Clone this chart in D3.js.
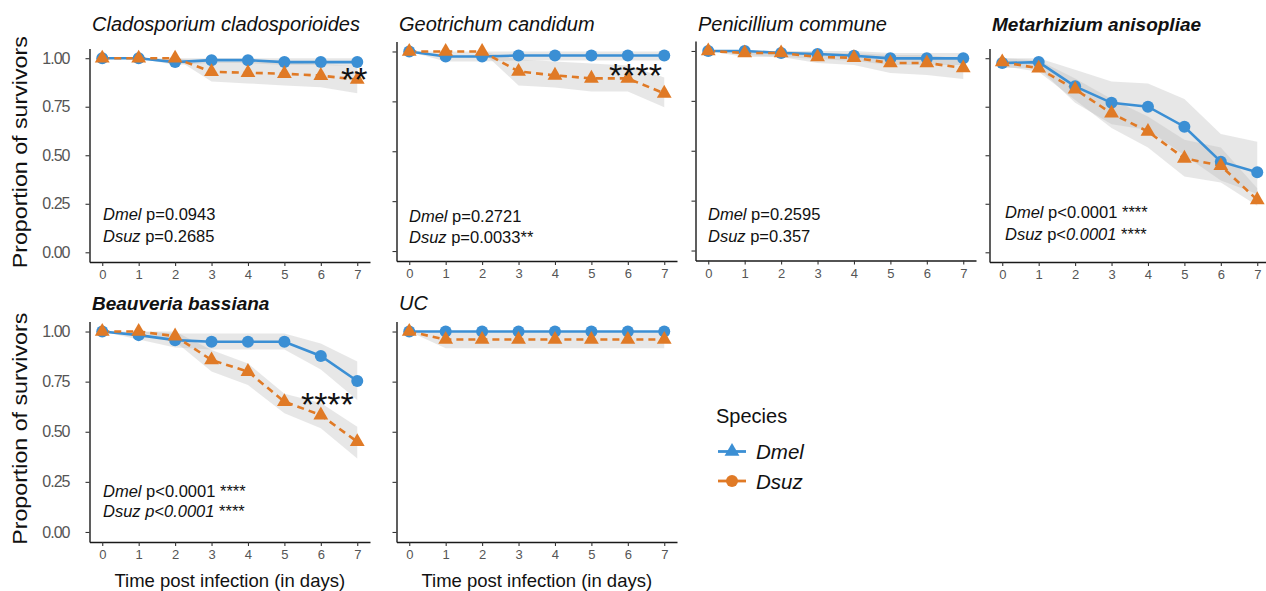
<!DOCTYPE html>
<html>
<head>
<meta charset="utf-8">
<script src="https://cdn.jsdelivr.net/npm/d3@7"></script>
<style>
  body { margin: 0; background: #fff; }
  text { font-family: "Liberation Sans", Arial, sans-serif; white-space: pre; }
</style>
</head>
<body>
<svg id="chart" width="1266" height="591"></svg>
<script>
// ---- data ----
var days        = [0, 1, 2, 3, 4, 5, 6, 7];
var yTicks      = [0, 0.25, 0.5, 0.75, 1];
var yTickLabels = ["0.00", "0.25", "0.50", "0.75", "1.00"];
var speciesNames = ["Dmel", "Dsuz"];

// Cladosporium cladosporioides
var cladoDmel   = [1, 1, 0.98, 0.99, 0.99, 0.98, 0.98, 0.98];
var cladoDmelLo = [1, 1, 0.965, 0.975, 0.975, 0.965, 0.965, 0.96];
var cladoDmelHi = [1, 1, 1, 1, 1, 1, 1, 1];
var cladoDsuz   = [1, 1, 1, 0.93, 0.925, 0.92, 0.91, 0.89];
var cladoDsuzLo = [1, 1, 1, 0.88, 0.87, 0.86, 0.85, 0.82];
var cladoDsuzHi = [1, 1, 1, 0.98, 0.98, 0.98, 0.97, 0.96];

// Geotrichum candidum
var geoDmel   = [1, 0.975, 0.975, 0.98, 0.98, 0.98, 0.98, 0.98];
var geoDmelLo = [1, 0.95, 0.95, 0.955, 0.955, 0.955, 0.955, 0.955];
var geoDmelHi = [1, 1, 1, 1, 1, 1, 1, 1];
var geoDsuz   = [1, 1, 1, 0.90, 0.88, 0.865, 0.865, 0.79];
var geoDsuzLo = [1, 1, 1, 0.83, 0.82, 0.80, 0.80, 0.72];
var geoDsuzHi = [1, 1, 1, 0.96, 0.95, 0.94, 0.93, 0.87];

// Penicillium commune
var peniDmel   = [1, 1, 0.99, 0.985, 0.976, 0.963, 0.963, 0.963];
var peniDmelLo = [1, 0.98, 0.97, 0.96, 0.95, 0.93, 0.93, 0.93];
var peniDmelHi = [1, 1, 1, 1, 1, 0.99, 0.99, 0.99];
var peniDsuz   = [1, 0.99, 0.99, 0.97, 0.966, 0.94, 0.94, 0.915];
var peniDsuzLo = [1, 0.97, 0.97, 0.94, 0.93, 0.89, 0.88, 0.86];
var peniDsuzHi = [1, 1, 1, 0.99, 0.99, 0.98, 0.98, 0.96];

// Metarhizium anisopliae
var metaDmel   = [0.975, 0.98, 0.855, 0.77, 0.75, 0.647, 0.467, 0.412];
var metaDmelLo = [0.95, 0.95, 0.77, 0.66, 0.63, 0.50, 0.37, 0.30];
var metaDmelHi = [1, 1, 0.94, 0.88, 0.87, 0.79, 0.61, 0.57];
var metaDsuz   = [0.98, 0.948, 0.84, 0.716, 0.622, 0.484, 0.446, 0.27];
var metaDsuzLo = [0.96, 0.93, 0.785, 0.64, 0.54, 0.39, 0.36, 0.24];
var metaDsuzHi = [1, 0.99, 0.895, 0.79, 0.70, 0.58, 0.54, 0.33];

// Beauveria bassiana
var beauDmel   = [1, 0.982, 0.957, 0.949, 0.949, 0.949, 0.878, 0.753];
var beauDmelLo = [1, 0.96, 0.92, 0.91, 0.91, 0.91, 0.81, 0.658];
var beauDmelHi = [1, 1, 0.99, 0.99, 0.99, 0.99, 0.94, 0.85];
var beauDsuz   = [1, 1, 0.977, 0.858, 0.80, 0.65, 0.583, 0.45];
var beauDsuzLo = [1, 1, 0.95, 0.80, 0.733, 0.592, 0.517, 0.367];
var beauDsuzHi = [1, 1, 1, 0.908, 0.841, 0.69, 0.643, 0.525];

// UC
var ucDmel   = [1, 1, 1, 1, 1, 1, 1, 1];
var ucDmelLo = [1, 1, 1, 1, 1, 1, 1, 1];
var ucDmelHi = [1, 1, 1, 1, 1, 1, 1, 1];
var ucDsuz   = [1, 0.96, 0.96, 0.96, 0.96, 0.96, 0.96, 0.96];
var ucDsuzLo = [1, 0.916, 0.916, 0.916, 0.916, 0.916, 0.916, 0.916];
var ucDsuzHi = [1, 1, 1, 1, 1, 1, 1, 1];

// p-value notes: [text, italic]
var cladoNotes = [[["Dmel", 1], [" p=0.0943", 0]], [["Dsuz", 1], [" p=0.2685", 0]]];
var geoNotes   = [[["Dmel", 1], [" p=0.2721", 0]], [["Dsuz", 1], [" p=0.0033**", 0]]];
var peniNotes  = [[["Dmel", 1], [" p=0.2595", 0]], [["Dsuz", 1], [" p=0.357", 0]]];
var metaNotes  = [[["Dmel", 1], [" p<0.0001 ****", 0]], [["Dsuz", 1], [" p<", 0], ["0.0001", 1], [" ****", 0]]];
var beauNotes  = [[["Dmel", 1], [" p<0.0001 ****", 0]], [["Dsuz p<0.0001", 1], [" ****", 0]]];
var ucNotes    = [];

var blue   = "#3b8fd4";
var orange = "#e07a26";

// ---- panel table (data + where each panel sits) ----
var panels = [
  { title: "Cladosporium cladosporioides", bold: false, left: 89.5, right: 370, top: 48.5, bottom: 262,
    dmel: [cladoDmel, cladoDmelLo, cladoDmelHi], dsuz: [cladoDsuz, cladoDsuzLo, cladoDsuzHi],
    notes: cladoNotes, noteX: 103, noteY: [220, 241.5], stars: "**", starDay: 6.92, starVal: 0.83,
    yLabels: true, xTitle: false },
  { title: "Geotrichum candidum", bold: false, left: 396.5, right: 677, top: 41.5, bottom: 261,
    dmel: [geoDmel, geoDmelLo, geoDmelHi], dsuz: [geoDsuz, geoDsuzLo, geoDsuzHi],
    notes: geoNotes, noteX: 409, noteY: [221.5, 243], stars: "****", starDay: 6.21, starVal: 0.822,
    yLabels: false, xTitle: false },
  { title: "Penicillium commune", bold: false, left: 695.5, right: 976, top: 41, bottom: 260.5,
    dmel: [peniDmel, peniDmelLo, peniDmelHi], dsuz: [peniDsuz, peniDsuzLo, peniDsuzHi],
    notes: peniNotes, noteX: 708, noteY: [220, 241.5], stars: "", yLabels: false, xTitle: false },
  { title: "Metarhizium anisopliae", bold: true, left: 989.5, right: 1270, top: 48.5, bottom: 262,
    dmel: [metaDmel, metaDmelLo, metaDmelHi], dsuz: [metaDsuz, metaDsuzLo, metaDsuzHi],
    notes: metaNotes, noteX: 1005, noteY: [218, 240], stars: "", yLabels: false, xTitle: false },
  { title: "Beauveria bassiana", bold: true, left: 89.5, right: 370, top: 321.5, bottom: 542,
    dmel: [beauDmel, beauDmelLo, beauDmelHi], dsuz: [beauDsuz, beauDsuzLo, beauDsuzHi],
    notes: beauNotes, noteX: 103, noteY: [497, 517], stars: "****", starDay: 6.18, starVal: 0.578,
    yLabels: true, xTitle: true },
  { title: "UC", bold: false, left: 396.5, right: 677, top: 321.5, bottom: 542,
    dmel: [ucDmel, ucDmelLo, ucDmelHi], dsuz: [ucDsuz, ucDsuzLo, ucDsuzHi],
    notes: ucNotes, stars: "", yLabels: false, xTitle: true }
];

var svg = d3.select("#chart");

panels.forEach(function(p, i) {
  var x = d3.scaleLinear().domain([-0.35, 7.35]).range([p.left, p.right]);
  var y = d3.scaleLinear().domain([-0.05, 1.05]).range([p.bottom, p.top]);
  var g = svg.append("g").attr("class", "panel-" + i);

  // confidence ribbons
  [p.dmel, p.dsuz].forEach(function(s) {
    g.append("path")
      .datum(days)
      .attr("d", d3.area().x(function(d) { return x(d); })
                          .y0(function(d) { return y(s[1][d]); })
                          .y1(function(d) { return y(s[2][d]); }))
      .attr("fill", "#bdbdbd")
      .attr("fill-opacity", 0.36);
  });

  var line = function(vals) {
    return d3.line().x(function(d) { return x(d); }).y(function(d) { return y(vals[d]); })(days);
  };
  g.append("path").attr("d", line(p.dmel[0]))
    .attr("fill", "none").attr("stroke", blue).attr("stroke-width", 2.6);
  g.append("path").attr("d", line(p.dsuz[0]))
    .attr("fill", "none").attr("stroke", orange).attr("stroke-width", 2.6)
    .attr("stroke-dasharray", "7,5");

  g.selectAll(".dot").data(days).enter().append("circle")
    .attr("cx", function(d) { return x(d); })
    .attr("cy", function(d) { return y(p.dmel[0][d]); })
    .attr("r", 6).attr("fill", blue);
  g.selectAll(".tri").data(days).enter().append("path")
    .attr("d", d3.symbol(d3.symbolTriangle, 95))
    .attr("transform", function(d) { return "translate(" + x(d) + "," + y(p.dsuz[0][d]) + ")"; })
    .attr("fill", orange);

  // axes
  var xa = g.append("g").attr("transform", "translate(0," + p.bottom + ")")
    .call(d3.axisBottom(x).tickValues(days).tickSize(4).tickSizeOuter(0).tickPadding(4));
  var ya = g.append("g").attr("transform", "translate(" + p.left + ",0)")
    .call(d3.axisLeft(y).tickValues(yTicks).tickSize(4).tickSizeOuter(0).tickPadding(16)
      .tickFormat(function(d, k) { return p.yLabels ? yTickLabels[k] : ""; }));
  [xa, ya].forEach(function(a) {
    a.select(".domain").attr("stroke", "#1a1a1a").attr("stroke-width", 1.4);
    a.selectAll(".tick line").attr("stroke", "#333").attr("stroke-width", 1.1);
  });
  xa.selectAll("text").attr("fill", "#555").style("font-size", "13px").attr("font-family", null);
  ya.selectAll("text").attr("fill", "#555").style("font-size", "16px").attr("font-family", null)
    .attr("letter-spacing", "-1");

  // panel title
  svg.append("text")
    .attr("x", p.left + 2.5).attr("y", p.top > 300 ? 310 : 31)
    .attr("font-style", "italic").attr("font-weight", p.bold ? "bold" : "normal")
    .style("font-size", p.bold ? "19px" : "20px").attr("fill", "#111")
    .text(p.title);

  // p-value notes
  p.notes.forEach(function(row, r) {
    var t = g.append("text").attr("x", p.noteX).attr("y", p.noteY[r])
      .style("font-size", "16.5px").attr("fill", "#111");
    row.forEach(function(seg) {
      t.append("tspan").attr("font-style", seg[1] ? "italic" : "normal").text(seg[0]);
    });
  });

  // significance stars
  if (p.stars) {
    g.append("text")
      .attr("x", x(p.starDay)).attr("y", y(p.starVal))
      .attr("text-anchor", "middle").style("font-size", "34px").attr("fill", "#111")
      .text(p.stars);
  }

  if (p.xTitle) {
    svg.append("text")
      .attr("x", (p.left + p.right) / 2).attr("y", 587)
      .attr("text-anchor", "middle").style("font-size", "18.5px").attr("fill", "#111")
      .text("Time post infection (in days)");
  }
  if (p.yLabels) {
    var cy = (p.top + p.bottom) / 2 - 3;
    svg.append("text")
      .attr("transform", "translate(27," + cy + ") rotate(-90)")
      .attr("text-anchor", "middle").style("font-size", "20px").attr("fill", "#111")
      .attr("textLength", 232).attr("lengthAdjust", "spacingAndGlyphs")
      .text("Proportion of survivors");
  }
});

// legend (shapes swapped as in the original)
var leg = svg.append("g");
leg.append("text").attr("x", 716).attr("y", 423).style("font-size", "20px").attr("fill", "#111")
  .text("Species");
var legColors = [blue, orange];
var legY = [451.5, 481];
speciesNames.forEach(function(name, k) {
  leg.append("line").attr("x1", 718).attr("x2", 746).attr("y1", legY[k]).attr("y2", legY[k])
    .attr("stroke", legColors[k]).attr("stroke-width", 2.8);
  if (k === 0) {
    leg.append("path").attr("d", d3.symbol(d3.symbolTriangle, 95))
      .attr("transform", "translate(732," + legY[k] + ")").attr("fill", legColors[k]);
  } else {
    leg.append("circle").attr("cx", 732).attr("cy", legY[k]).attr("r", 6).attr("fill", legColors[k]);
  }
  leg.append("text").attr("x", 756).attr("y", legY[k] + 7.5)
    .attr("font-style", "italic").style("font-size", "20.5px").attr("fill", "#111")
    .text(name);
});
</script>
</body>
</html>
